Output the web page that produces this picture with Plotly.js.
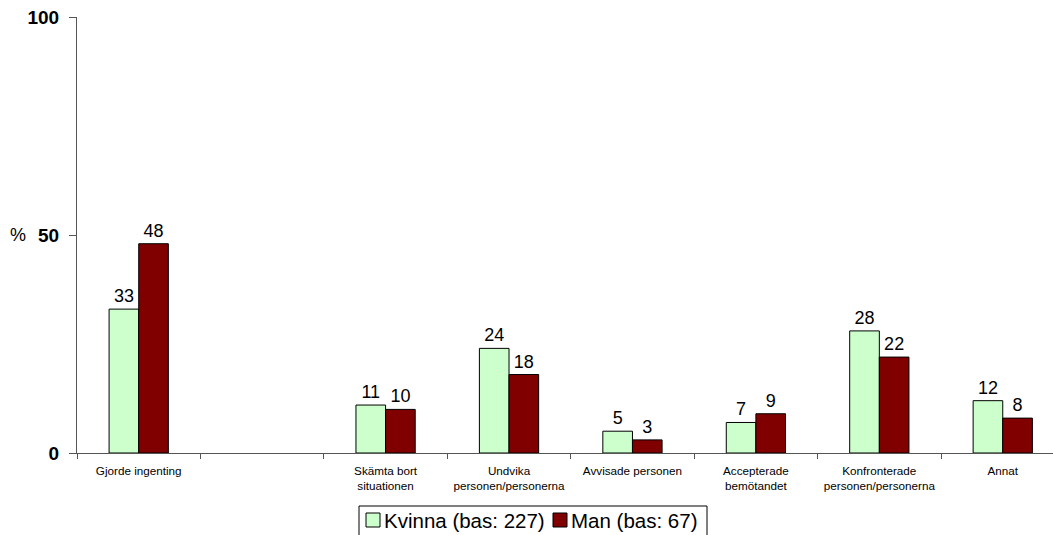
<!DOCTYPE html>
<html>
<head>
<meta charset="utf-8">
<script src="https://cdn.plot.ly/plotly-3.0.1.min.js"></script>
<style>html,body{margin:0;padding:0;background:#fff}#chart{width:1053px;height:535px}</style>
</head>
<body>
<div id="chart"></div>
<script>
const categories = ["Gjorde ingenting", " ", "Skämta bort<br>situationen", "Undvika<br>personen/personerna", "Avvisade personen", "Accepterade<br>bemötandet", "Konfronterade<br>personen/personerna", "Annat"];
const kvinna = [33, null, 11, 24, 5, 7, 28, 12];
const man = [48, null, 10, 18, 3, 9, 22, 8];
const seriesNames = ["Kvinna (bas: 227)", "Man (bas: 67)"];
const seriesColors = ["#CCFFCC", "#800000"];
const yTicks = [0, 50, 100];

const W = 1053, H = 535, ML = 77, MR = 0, MT = 17, MB = 82;
const pw = W - ML - MR, ph = H - MT - MB;
const px = x => (x - ML) / pw;           // pixel -> paper x
const py = y => (H - MB - y) / ph;       // pixel -> paper y

const lbl = v => v.map(x => x === null ? "" : String(x));
const series = [kvinna, man];
const traces = series.map((vals, i) => ({
  type: "bar", name: seriesNames[i], x: categories, y: vals, text: lbl(vals),
  textposition: "outside", cliponaxis: false, showlegend: false,
  textfont: {family: "Arial, Liberation Sans", size: 18, color: "#000"},
  marker: {color: seriesColors[i], line: {color: "#000", width: 1}}
}));

// custom legend (box, swatches, labels)
const legendSwatchX = [366, 553];
const legendTextX = [383, 570];
const shapes = [
  {type: "rect", xref: "paper", yref: "paper", x0: px(359), x1: px(707), y0: py(506), y1: py(548),
   line: {color: "#000", width: 1}, fillcolor: "rgba(0,0,0,0)"}
];
const annotations = [
  {text: "%", xref: "paper", yref: "y", x: px(18), y: 50, xanchor: "center", yanchor: "middle",
   showarrow: false, font: {size: 18, color: "#000"}}
];
seriesNames.forEach((n, i) => {
  shapes.push({type: "rect", xref: "paper", yref: "paper",
    x0: px(legendSwatchX[i]), x1: px(legendSwatchX[i] + 14), y0: py(527), y1: py(513),
    line: {color: "#000", width: 1}, fillcolor: seriesColors[i]});
  annotations.push({text: n, xref: "paper", yref: "paper", x: px(legendTextX[i]), y: py(520),
    xanchor: "left", yanchor: "middle", showarrow: false, borderpad: 0,
    font: {size: 20.5, color: "#000"}});
});

const layout = {
  width: W, height: H,
  margin: {l: ML, r: MR, t: MT, b: MB, autoexpand: false},
  paper_bgcolor: "#fff", plot_bgcolor: "#fff",
  font: {family: "Arial, Liberation Sans", color: "#000"},
  barmode: "group", bargap: 0.52, bargroupgap: 0,
  showlegend: false,
  xaxis: {type: "category", categoryorder: "array", categoryarray: categories,
    range: [-0.5, 7.407], showline: true, linecolor: "#555", linewidth: 1,
    ticks: "outside", tickson: "boundaries", ticklen: 5, tickcolor: "#555",
    ticklabelstandoff: 7,
    tickfont: {size: 11.7, color: "#000"}, showgrid: false, zeroline: false, fixedrange: true},
  yaxis: {range: [0, 100], tickvals: yTicks, ticktext: yTicks.map(String),
    showline: true, linecolor: "#555", linewidth: 1, ticks: "outside", ticklen: 7, tickcolor: "#555",
    tickfont: {size: 19, color: "#000", weight: "bold"}, ticklabelstandoff: 6,
    showgrid: false, zeroline: false, fixedrange: true},
  shapes: shapes,
  annotations: annotations
};
Plotly.newPlot("chart", traces, layout, {displayModeBar: false, staticPlot: true});
</script>
</body>
</html>
